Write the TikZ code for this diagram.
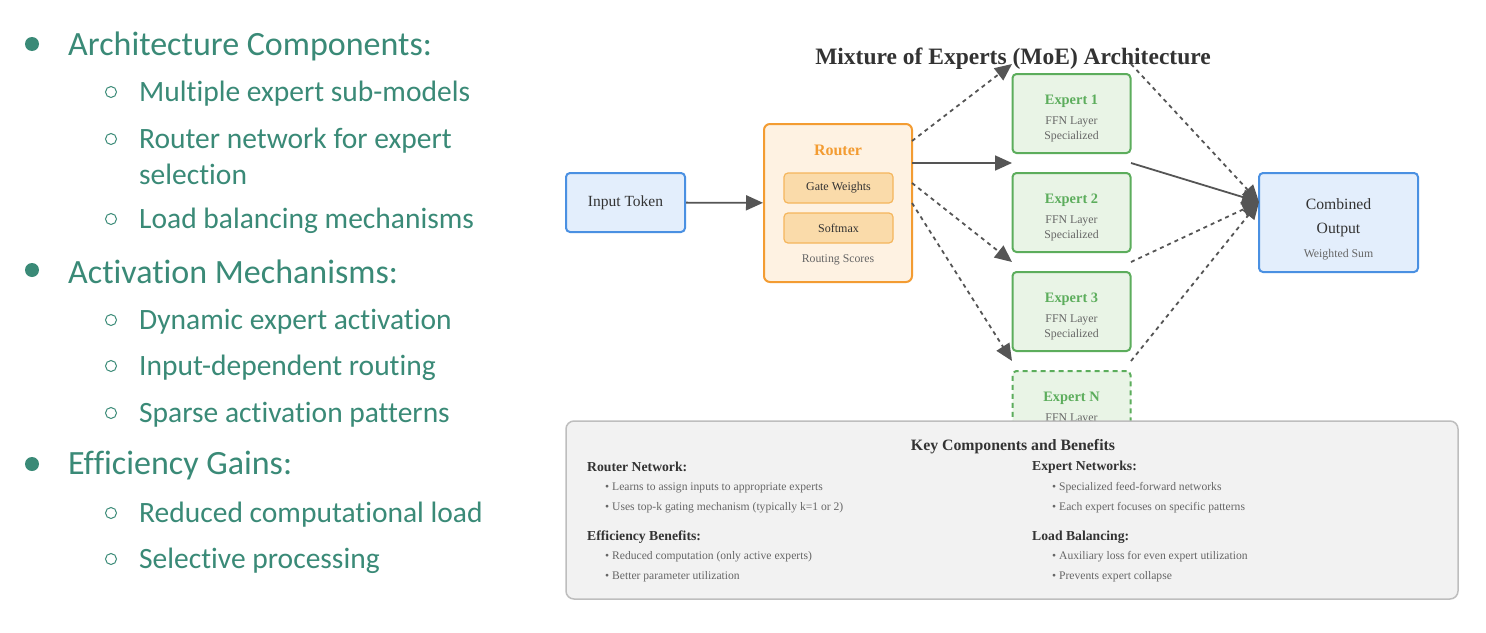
\documentclass[tikz,border=0pt]{standalone}
\usepackage{fontspec}
\setmainfont{Liberation Serif}
\newfontfamily\slidefont[Ligatures=NoCommon]{Carlito}
\usetikzlibrary{arrows.meta}

\definecolor{slideteal}{HTML}{3A8A77}
\definecolor{inblue}{HTML}{4A90E2}
\definecolor{inbluefill}{HTML}{E3EEFC}
\definecolor{routorange}{HTML}{F39C32}
\definecolor{routfill}{HTML}{FEF2E2}
\definecolor{gatefill}{HTML}{FADBAA}
\definecolor{gateline}{HTML}{F5B65C}
\definecolor{expgreen}{HTML}{5CAD5C}
\definecolor{expfill}{HTML}{E9F4E6}
\definecolor{arrowgray}{HTML}{555555}
\definecolor{notegray}{HTML}{666666}
\definecolor{panelfill}{HTML}{F2F2F2}
\definecolor{panelline}{HTML}{BEBEBE}
\definecolor{titlegray}{HTML}{333333}

\tikzset{
  txt/.style={yshift=-2pt},
  mainitem/.style={txt,anchor=west,inner sep=0pt,text=slideteal,
    font=\slidefont\fontsize{34}{38}\selectfont},
  subitem/.style={txt,anchor=west,inner sep=0pt,text=slideteal,
    font=\slidefont\fontsize{29.5}{34}\selectfont},
  bluebox/.style={draw=inblue,fill=inbluefill,line width=2pt,rounded corners=4pt},
  routbox/.style={draw=routorange,fill=routfill,line width=2pt,rounded corners=6pt,
    minimum width=148pt,minimum height=158pt},
  gatebox/.style={draw=gateline,fill=gatefill,line width=1.2pt,rounded corners=4pt,
    minimum width=109pt,minimum height=30pt,text=titlegray,
    font=\fontsize{12}{14}\selectfont},
  expbox/.style={draw=expgreen,fill=expfill,line width=2pt,rounded corners=4pt,
    minimum width=118pt,minimum height=79pt},
  exptitle/.style={txt,text=expgreen,font=\bfseries\fontsize{14.4}{16}\selectfont},
  small/.style={txt,text=notegray,font=\fontsize{11.8}{13}\selectfont},
  flow/.style={draw=arrowgray,line width=1.8pt,-{Triangle[length=17pt,width=15pt]}},
  dflow/.style={flow,dash pattern=on 4pt off 4pt},
  head/.style={txt,anchor=west,inner sep=0pt,text=titlegray,
    font=\bfseries\fontsize{13.7}{15}\selectfont},
  point/.style={txt,anchor=west,inner sep=0pt,text=notegray,
    font=\fontsize{11.6}{13}\selectfont}
}

\begin{document}
\begin{tikzpicture}[x=1pt,y=-1pt]
  \useasboundingbox[fill=white] (0,0) rectangle (1486,632);

  % slide bullets
  \foreach \yy in {44,270,464}
    \fill[slideteal] (32,\yy) circle (7);
  \foreach \yy in {92,139,219,320,366,413,513,559}
    \draw[slideteal,line width=1pt] (111,\yy) circle (5.5);
  \node[mainitem] (l1) at (68,44) {Architecture Components:};
  \node[subitem] (l2) at (139,92) {Multiple expert sub-models};
  \node[subitem] (l3) at (139,139) {Router network for expert};
  \node[subitem] (l4) at (139,172) {selection};
  \node[subitem] (l5) at (139,219) {Load balancing mechanisms};
  \node[mainitem] (l6) at (68,270) {Activation Mechanisms:};
  \node[subitem] (l7) at (139,320) {Dynamic expert activation};
  \node[subitem] (l8) at (139,366) {Input-dependent routing};
  \node[subitem] (l9) at (139,413) {Sparse activation patterns};
  \node[mainitem] (l10) at (68,464) {Efficiency Gains:};
  \node[subitem] (l11) at (139,513) {Reduced computational load};
  \node[subitem] (l12) at (139,559) {Selective processing};

  % diagram
  \node[txt,text=titlegray,font=\bfseries\fontsize{23.5}{26}\selectfont] (title) at (1013,57)
    {Mixture of Experts (MoE) Architecture};

  \node[bluebox,minimum width=119pt,minimum height=59pt,text=titlegray,
    font=\fontsize{15.5}{17}\selectfont] (input) at (625.5,202.5) {Input Token};

  \node[routbox] (router) at (838,203) {};
  \node[txt,text=routorange,font=\bfseries\fontsize{16}{18}\selectfont] (rname) at (838,148) {Router};
  \node[gatebox] (gate) at (838.5,188) {Gate Weights};
  \node[gatebox] (soft) at (838.5,228) {Softmax};
  \node[small] (scores) at (838,258) {Routing Scores};

  \foreach \i/\yy in {1/113.5,2/212.5,3/311.5} {
    \node[expbox] (e\i) at (1071.5,\yy) {};
    \node[exptitle] (t\i) at (1071.5,\yy-14) {Expert \i};
    \node[small] (f\i) at (1071.5,\yy+6) {FFN Layer};
    \node[small] (s\i) at (1071.5,\yy+21) {Specialized};
  }
  \node[expbox,dashed,dash pattern=on 5pt off 4pt] (eN) at (1071.5,410.5) {};
  \node[exptitle] (tN) at (1071.5,396.5) {Expert N};
  \node[small] (fN) at (1071.5,416.5) {FFN Layer};

  \node[bluebox,minimum width=159pt,minimum height=99pt] (comb) at (1338.5,222.5) {};
  \node[txt,text=titlegray,font=\fontsize{15.7}{17}\selectfont] (c1) at (1338.5,202.5) {Combined};
  \node[txt,text=titlegray,font=\fontsize{15.7}{17}\selectfont] (c2) at (1338.5,227.5) {Output};
  \node[small] (c3) at (1338.5,253) {Weighted Sum};

  % arrow ends
  \coordinate (r1) at (912,141);
  \coordinate (r2) at (912,163);
  \coordinate (r3) at (912,183);
  \coordinate (r4) at (912,203);
  \coordinate (in1) at (1012,64);
  \coordinate (in2) at (1012,163);
  \coordinate (in3) at (1012,262);
  \coordinate (in4) at (1012,361);
  \coordinate (out1) at (1131,64);
  \coordinate (out2) at (1131,163);
  \coordinate (out3) at (1131,262);
  \coordinate (out4) at (1131,361);
  \coordinate (join) at (1259,202);

  \draw[flow] (input) -- (router);
  \draw[dflow] (r1) -- (in1);
  \draw[flow] (r2) -- (in2);
  \draw[dflow] (r3) -- (in3);
  \draw[dflow] (r4) -- (in4);
  \draw[dflow] (out1) -- (join);
  \draw[flow] (out2) -- (join);
  \draw[dflow] (out3) -- (join);
  \draw[dflow] (out4) -- (join);

  % key components panel
  \node[draw=panelline,fill=panelfill,line width=1.5pt,rounded corners=8pt,
    minimum width=892pt,minimum height=178pt] (panel) at (1012,510) {};
  \node[txt,text=titlegray,font=\bfseries\fontsize{15.8}{18}\selectfont] (ptitle) at (1013,445)
    {Key Components and Benefits};
  \node[head] (h1) at (587,465) {Router Network:};
  \node[point] (p1) at (605,486) {\textbullet\ Learns to assign inputs to appropriate experts};
  \node[point] (p2) at (605,506) {\textbullet\ Uses top-k gating mechanism (typically k=1 or 2)};
  \node[head] (h2) at (587,535) {Efficiency Benefits:};
  \node[point] (p3) at (605,555) {\textbullet\ Reduced computation (only active experts)};
  \node[point] (p4) at (605,575) {\textbullet\ Better parameter utilization};
  \node[head] (h3) at (1032,465) {Expert Networks:};
  \node[point] (p5) at (1052,486) {\textbullet\ Specialized feed-forward networks};
  \node[point] (p6) at (1052,506) {\textbullet\ Each expert focuses on specific patterns};
  \node[head] (h4) at (1032,535) {Load Balancing:};
  \node[point] (p7) at (1052,555) {\textbullet\ Auxiliary loss for even expert utilization};
  \node[point] (p8) at (1052,575) {\textbullet\ Prevents expert collapse};
\end{tikzpicture}
\end{document}
